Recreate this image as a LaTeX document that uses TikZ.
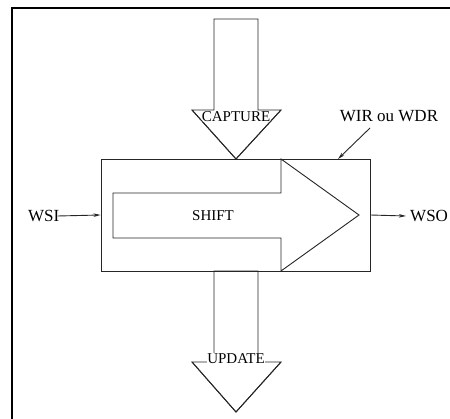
\documentclass[tikz,border=0pt]{standalone}
\usepackage{fontspec}
\setmainfont{Liberation Serif}
\usetikzlibrary{arrows.meta}
\begin{document}
\begin{tikzpicture}[x=1pt,y=-1pt,
  outline/.style={draw=black!85,line width=0.9pt,line join=miter},
  lbl/.style={inner sep=0pt,font=\fontsize{17}{17}\selectfont},
  inlbl/.style={inner sep=0pt,font=\fontsize{15}{15}\selectfont},
  sig/.style={draw=black!85,line width=0.9pt,-{Stealth[length=7pt,width=3.5pt,inset=2pt]}}]
  % white page
  \fill[white] (0,0) rectangle (450,419);
  \useasboundingbox (0,0) rectangle (450,419);
  % page frame
  \draw[line width=1.4pt] (12,419) -- (12,8) -- (450,8);

  % register box
  \node[outline,minimum width=269pt,minimum height=112pt,inner sep=0pt] (box) at (235.5,215) {};

  % shift path inside the register
  \draw[outline] (281,193) -- (113,193) -- (113,238) -- (281,238) -- (281,271)
                 -- (359,215) -- (281,159) -- cycle;
  \node[inlbl] (shift) at (213,216) {SHIFT};

  % capture arrow
  \draw[outline] (214,19) -- (258,19) -- (258,110) -- (281,110) -- (236,159)
                 -- (192,110) -- (214,110) -- cycle;
  \node[inlbl,fill=white,inner xsep=0.5pt] (capture) at (236,116.5) {CAPTURE};
  \draw[outline] (192,110) -- (236,159) -- (281,110);

  % update arrow
  \draw[outline] (214,271) -- (258,271) -- (258,362) -- (281,362) -- (236,412)
                 -- (192,362) -- (214,362) -- cycle;
  \node[inlbl,fill=white,inner xsep=0.5pt] (update) at (236,358.5) {UPDATE};
  \draw[outline] (192,362) -- (236,412) -- (281,362);

  % serial in / out
  \node[lbl,anchor=west] (wsi) at (28,216) {WSI};
  \node[lbl,anchor=west] (wso) at (410,216) {WSO};
  \draw[sig] ([xshift=-2pt]wsi.east) -- (box.west);
  \draw[sig] (box.east) -- ([xshift=-4pt]wso.west);

  % register name
  \node[lbl] (name) at (389,116) {WIR ou WDR};
  \coordinate (nametail) at (370,128);
  \coordinate (boxtop) at (338,159);
  \draw[sig] (nametail) -- (boxtop);
\end{tikzpicture}
\end{document}
